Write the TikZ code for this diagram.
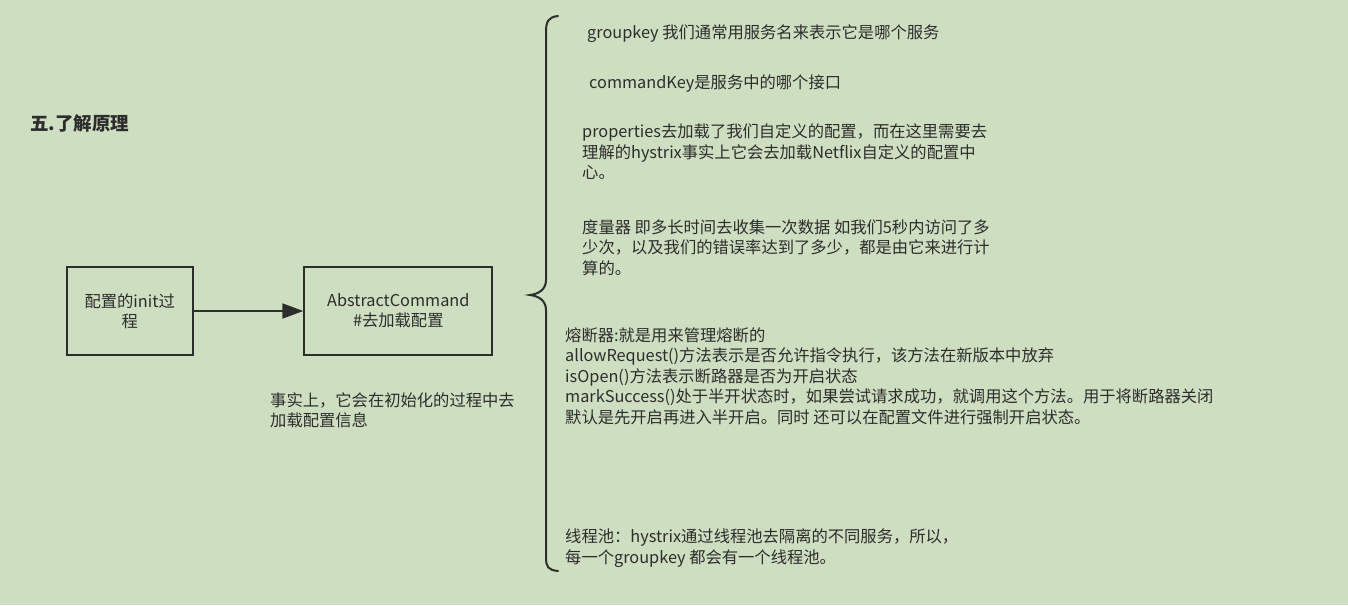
\documentclass[tikz,border=0pt]{standalone}
\usepackage{fontspec}
\setmainfont{Noto Sans CJK SC}
\usetikzlibrary{arrows.meta}
\definecolor{bgcol}{RGB}{206,222,193}
\definecolor{inkcol}{RGB}{45,45,45}
\tikzset{
  box/.style={draw=inkcol, line width=2pt, minimum height=88pt, align=center, inner sep=0pt, text=inkcol, font=\fontsize{16.3}{20}\selectfont},
  note/.style={anchor=base west, align=left, inner sep=0pt, text=inkcol, font=\fontsize{16.3}{20.4}\selectfont},
}
\begin{document}
\begin{tikzpicture}[x=1pt,y=-1pt]
\fill[bgcol] (0,0) rectangle (1348,605);
\useasboundingbox (0,0) rectangle (1348,605);

\node[anchor=west, inner sep=0pt, text=inkcol, font=\fontsize{18.5}{22}\selectfont\bfseries] (title) at (30,123) {五.了解原理};

\node[box, minimum width=126pt] (init) at (129.7,311) {配置的init过\\程};
\node[box, minimum width=188pt] (cmd) at (398.3,311) {AbstractCommand\\\#去加载配置};
\draw[inkcol, line width=2pt, -{Triangle[length=21pt,width=15pt]}] (init) -- (cmd);

% base = baseline of the last line
\node[note] (fact) at (270,426.5) {事实上，它会在初始化的过程中去\\加载配置信息};

% brace
\draw[inkcol, line width=2pt, line cap=round] (558,16) .. controls (548,17) and (546,22) .. (546,32)
  -- (546,280) .. controls (546,290) and (538,294) .. (530,295)
  .. controls (538,296) and (546,300) .. (546,310)
  -- (546,557) .. controls (546,567) and (548,570) .. (558,571);

\node[note] (groupkey) at (587,38) {groupkey 我们通常用服务名来表示它是哪个服务};
\node[note] (cmdkey) at (589,88) {commandKey是服务中的哪个接口};
\node[note] (props) at (582,178.5) {properties去加载了我们自定义的配置，而在这里需要去\\理解的hystrix事实上它会去加载Netflix自定义的配置中\\心。};
\node[note] (metric) at (582,274) {度量器 即多长时间去收集一次数据 如我们5秒内访问了多\\少次，以及我们的错误率达到了多少，都是由它来进行计\\算的。};
\node[note] (breaker) at (565,423) {熔断器:就是用来管理熔断的\\allowRequest()方法表示是否允许指令执行，该方法在新版本中放弃\\isOpen()方法表示断路器是否为开启状态\\markSuccess()处于半开状态时，如果尝试请求成功，就调用这个方法。用于将断路器关闭\\默认是先开启再进入半开启。同时 还可以在配置文件进行强制开启状态。};
\node[note] (pool) at (565,563) {线程池：hystrix通过线程池去隔离的不同服务，所以，\\每一个groupkey 都会有一个线程池。};
\end{tikzpicture}
\end{document}
